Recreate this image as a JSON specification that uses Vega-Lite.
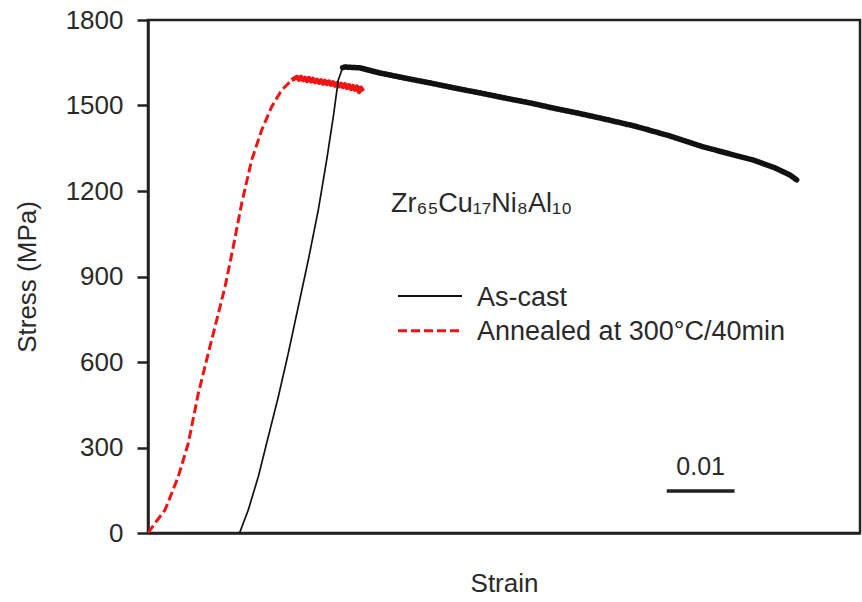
{
  "$schema": "https://vega.github.io/schema/vega-lite/v6.json",
  "width": 712,
  "height": 513,
  "autosize": "none",
  "padding": {"left": 148, "top": 20, "right": 2, "bottom": 69},
  "background": "white",
  "config": {
    "font": "Liberation Sans",
    "view": {"stroke": "#222", "strokeWidth": 2.5},
    "axis": {"grid": false, "domainColor": "#222", "domainWidth": 2.5, "tickColor": "#222", "tickWidth": 2.5,
             "labelFont": "Liberation Sans", "titleFont": "Liberation Sans", "labelColor": "#2a2a2a", "titleColor": "#2a2a2a",
             "titleFontWeight": "normal"},
    "text": {"font": "Liberation Sans", "color": "#2a2a2a"}
  },
  "datasets": {
    "curves": [
      {"series": "Annealed at 300°C/40min", "stage": "elastic", "strain": 0.0, "stress": 0},
      {"series": "Annealed at 300°C/40min", "stage": "elastic", "strain": 0.00103, "stress": 34},
      {"series": "Annealed at 300°C/40min", "stage": "elastic", "strain": 0.00251, "stress": 81},
      {"series": "Annealed at 300°C/40min", "stage": "elastic", "strain": 0.00447, "stress": 198},
      {"series": "Annealed at 300°C/40min", "stage": "elastic", "strain": 0.00594, "stress": 315},
      {"series": "Annealed at 300°C/40min", "stage": "elastic", "strain": 0.00742, "stress": 490},
      {"series": "Annealed at 300°C/40min", "stage": "elastic", "strain": 0.00889, "stress": 631},
      {"series": "Annealed at 300°C/40min", "stage": "elastic", "strain": 0.01013, "stress": 747},
      {"series": "Annealed at 300°C/40min", "stage": "elastic", "strain": 0.01136, "stress": 864},
      {"series": "Annealed at 300°C/40min", "stage": "elastic", "strain": 0.01258, "stress": 1005},
      {"series": "Annealed at 300°C/40min", "stage": "elastic", "strain": 0.01382, "stress": 1157},
      {"series": "Annealed at 300°C/40min", "stage": "elastic", "strain": 0.01529, "stress": 1309},
      {"series": "Annealed at 300°C/40min", "stage": "elastic", "strain": 0.01677, "stress": 1414},
      {"series": "Annealed at 300°C/40min", "stage": "elastic", "strain": 0.01824, "stress": 1496},
      {"series": "Annealed at 300°C/40min", "stage": "elastic", "strain": 0.01972, "stress": 1554},
      {"series": "Annealed at 300°C/40min", "stage": "elastic", "strain": 0.02119, "stress": 1589},
      {"series": "Annealed at 300°C/40min", "stage": "flow", "strain": 0.02119, "stress": 1589},
      {"series": "Annealed at 300°C/40min", "stage": "flow", "strain": 0.02197, "stress": 1600},
      {"series": "Annealed at 300°C/40min", "stage": "flow", "strain": 0.02227, "stress": 1591},
      {"series": "Annealed at 300°C/40min", "stage": "flow", "strain": 0.02256, "stress": 1600},
      {"series": "Annealed at 300°C/40min", "stage": "flow", "strain": 0.02286, "stress": 1589},
      {"series": "Annealed at 300°C/40min", "stage": "flow", "strain": 0.02315, "stress": 1597},
      {"series": "Annealed at 300°C/40min", "stage": "flow", "strain": 0.02345, "stress": 1586},
      {"series": "Annealed at 300°C/40min", "stage": "flow", "strain": 0.02374, "stress": 1596},
      {"series": "Annealed at 300°C/40min", "stage": "flow", "strain": 0.02404, "stress": 1585},
      {"series": "Annealed at 300°C/40min", "stage": "flow", "strain": 0.02433, "stress": 1593},
      {"series": "Annealed at 300°C/40min", "stage": "flow", "strain": 0.02463, "stress": 1582},
      {"series": "Annealed at 300°C/40min", "stage": "flow", "strain": 0.02492, "stress": 1590},
      {"series": "Annealed at 300°C/40min", "stage": "flow", "strain": 0.02522, "stress": 1580},
      {"series": "Annealed at 300°C/40min", "stage": "flow", "strain": 0.02551, "stress": 1588},
      {"series": "Annealed at 300°C/40min", "stage": "flow", "strain": 0.02581, "stress": 1577},
      {"series": "Annealed at 300°C/40min", "stage": "flow", "strain": 0.0261, "stress": 1586},
      {"series": "Annealed at 300°C/40min", "stage": "flow", "strain": 0.0264, "stress": 1576},
      {"series": "Annealed at 300°C/40min", "stage": "flow", "strain": 0.02669, "stress": 1584},
      {"series": "Annealed at 300°C/40min", "stage": "flow", "strain": 0.02699, "stress": 1573},
      {"series": "Annealed at 300°C/40min", "stage": "flow", "strain": 0.02728, "stress": 1581},
      {"series": "Annealed at 300°C/40min", "stage": "flow", "strain": 0.02758, "stress": 1570},
      {"series": "Annealed at 300°C/40min", "stage": "flow", "strain": 0.02787, "stress": 1578},
      {"series": "Annealed at 300°C/40min", "stage": "flow", "strain": 0.02817, "stress": 1568},
      {"series": "Annealed at 300°C/40min", "stage": "flow", "strain": 0.02846, "stress": 1576},
      {"series": "Annealed at 300°C/40min", "stage": "flow", "strain": 0.02876, "stress": 1565},
      {"series": "Annealed at 300°C/40min", "stage": "flow", "strain": 0.02905, "stress": 1574},
      {"series": "Annealed at 300°C/40min", "stage": "flow", "strain": 0.02935, "stress": 1562},
      {"series": "Annealed at 300°C/40min", "stage": "flow", "strain": 0.02964, "stress": 1571},
      {"series": "Annealed at 300°C/40min", "stage": "flow", "strain": 0.02994, "stress": 1558},
      {"series": "Annealed at 300°C/40min", "stage": "flow", "strain": 0.03023, "stress": 1568},
      {"series": "Annealed at 300°C/40min", "stage": "flow", "strain": 0.03053, "stress": 1556},
      {"series": "Annealed at 300°C/40min", "stage": "flow", "strain": 0.03082, "stress": 1566},
      {"series": "Annealed at 300°C/40min", "stage": "flow", "strain": 0.03112, "stress": 1548},
      {"series": "Annealed at 300°C/40min", "stage": "flow", "strain": 0.03141, "stress": 1562},
      {"series": "Annealed at 300°C/40min", "stage": "flow", "strain": 0.03171, "stress": 1550},
      {"series": "As-cast", "stage": "elastic", "strain": 0.0135, "stress": 0},
      {"series": "As-cast", "stage": "elastic", "strain": 0.01479, "stress": 81},
      {"series": "As-cast", "stage": "elastic", "strain": 0.01627, "stress": 198},
      {"series": "As-cast", "stage": "elastic", "strain": 0.01774, "stress": 338},
      {"series": "As-cast", "stage": "elastic", "strain": 0.01922, "stress": 478},
      {"series": "As-cast", "stage": "elastic", "strain": 0.02069, "stress": 631},
      {"series": "As-cast", "stage": "elastic", "strain": 0.02216, "stress": 794},
      {"series": "As-cast", "stage": "elastic", "strain": 0.02364, "stress": 958},
      {"series": "As-cast", "stage": "elastic", "strain": 0.02511, "stress": 1133},
      {"series": "As-cast", "stage": "elastic", "strain": 0.02635, "stress": 1309},
      {"series": "As-cast", "stage": "elastic", "strain": 0.02733, "stress": 1461},
      {"series": "As-cast", "stage": "elastic", "strain": 0.02806, "stress": 1589},
      {"series": "As-cast", "stage": "elastic", "strain": 0.0287, "stress": 1633},
      {"series": "As-cast", "stage": "flow", "strain": 0.0287, "stress": 1633},
      {"series": "As-cast", "stage": "flow", "strain": 0.02905, "stress": 1635},
      {"series": "As-cast", "stage": "flow", "strain": 0.03126, "stress": 1632},
      {"series": "As-cast", "stage": "flow", "strain": 0.03421, "stress": 1614},
      {"series": "As-cast", "stage": "flow", "strain": 0.0379, "stress": 1596},
      {"series": "As-cast", "stage": "flow", "strain": 0.04159, "stress": 1579},
      {"series": "As-cast", "stage": "flow", "strain": 0.04527, "stress": 1561},
      {"series": "As-cast", "stage": "flow", "strain": 0.04896, "stress": 1544},
      {"series": "As-cast", "stage": "flow", "strain": 0.05265, "stress": 1526},
      {"series": "As-cast", "stage": "flow", "strain": 0.05634, "stress": 1509},
      {"series": "As-cast", "stage": "flow", "strain": 0.05973, "stress": 1491},
      {"series": "As-cast", "stage": "flow", "strain": 0.06322, "stress": 1474},
      {"series": "As-cast", "stage": "flow", "strain": 0.06666, "stress": 1456},
      {"series": "As-cast", "stage": "flow", "strain": 0.07207, "stress": 1426},
      {"series": "As-cast", "stage": "flow", "strain": 0.07698, "stress": 1393},
      {"series": "As-cast", "stage": "flow", "strain": 0.08185, "stress": 1355},
      {"series": "As-cast", "stage": "flow", "strain": 0.08583, "stress": 1330},
      {"series": "As-cast", "stage": "flow", "strain": 0.08922, "stress": 1309},
      {"series": "As-cast", "stage": "flow", "strain": 0.09247, "stress": 1281},
      {"series": "As-cast", "stage": "flow", "strain": 0.09468, "stress": 1256},
      {"series": "As-cast", "stage": "flow", "strain": 0.09566, "stress": 1239}
    ]
  },
  "layer": [
    {
      "data": {"name": "curves"},
      "transform": [{"filter": "datum.series === 'Annealed at 300°C/40min' && datum.stage === 'elastic'"}],
      "mark": {"type": "line", "strokeWidth": 3, "clip": true},
      "encoding": {
        "x": {"field": "strain", "type": "quantitative", "scale": {"domain": [0, 0.105], "nice": false},
              "axis": {"title": "Strain", "labels": false, "ticks": false, "titleFontSize": 26, "titlePadding": 37}},
        "y": {"field": "stress", "type": "quantitative", "scale": {"domain": [0, 1800], "nice": false},
              "axis": {"title": "Stress (MPa)", "values": [0, 300, 600, 900, 1200, 1500, 1800], "format": "d", "tickSize": 11,
                       "labelFontSize": 26, "labelPadding": 14, "titleFontSize": 26, "titlePadding": 25}},
        "color": {"field": "series", "type": "nominal", "legend": null,
                  "scale": {"domain": ["As-cast", "Annealed at 300°C/40min"], "range": ["#111111", "#f01414"]}},
        "strokeDash": {"field": "series", "type": "nominal", "legend": null,
                       "scale": {"domain": ["As-cast", "Annealed at 300°C/40min"], "range": [[1, 0], [9, 4]]}}
      }
    },
    {
      "data": {"name": "curves"},
      "transform": [{"filter": "datum.series === 'Annealed at 300°C/40min' && datum.stage === 'flow'"}],
      "mark": {"type": "line", "strokeWidth": 4.5, "strokeJoin": "round"},
      "encoding": {
        "x": {"field": "strain", "type": "quantitative"},
        "y": {"field": "stress", "type": "quantitative"},
        "color": {"field": "series", "type": "nominal"}
      }
    },
    {
      "data": {"name": "curves"},
      "transform": [{"filter": "datum.series === 'As-cast' && datum.stage === 'elastic'"}],
      "mark": {"type": "line", "strokeWidth": 1.7},
      "encoding": {
        "x": {"field": "strain", "type": "quantitative"},
        "y": {"field": "stress", "type": "quantitative"},
        "color": {"field": "series", "type": "nominal"},
        "strokeDash": {"field": "series", "type": "nominal"}
      }
    },
    {
      "data": {"name": "curves"},
      "transform": [{"filter": "datum.series === 'As-cast' && datum.stage === 'flow'"}],
      "mark": {"type": "line", "strokeWidth": 5.5, "strokeCap": "round"},
      "encoding": {
        "x": {"field": "strain", "type": "quantitative"},
        "y": {"field": "stress", "type": "quantitative"},
        "color": {"field": "series", "type": "nominal"},
        "strokeDash": {"field": "series", "type": "nominal"}
      }
    },
    {
      "data": {"values": [{}]},
      "mark": {"type": "rule", "strokeWidth": 2},
      "encoding": {
        "x": {"datum": 0.03687, "type": "quantitative"},
        "x2": {"datum": 0.04631},
        "y": {"datum": 831.6, "type": "quantitative"},
        "color": {"datum": "As-cast", "type": "nominal"},
        "strokeDash": {"datum": "As-cast", "type": "nominal"}
      }
    },
    {
      "data": {"values": [{}]},
      "mark": {"type": "rule", "strokeWidth": 3},
      "encoding": {
        "x": {"datum": 0.03687, "type": "quantitative"},
        "x2": {"datum": 0.04631},
        "y": {"datum": 709.8, "type": "quantitative"},
        "color": {"datum": "Annealed at 300°C/40min", "type": "nominal"},
        "strokeDash": {"datum": "Annealed at 300°C/40min", "type": "nominal"}
      }
    },
    {
      "data": {"values": [{}]},
      "mark": {"type": "text", "text": "As-cast", "fontSize": 27, "align": "left", "baseline": "alphabetic"},
      "encoding": {
        "x": {"datum": 0.04852, "type": "quantitative"},
        "y": {"datum": 797.5, "type": "quantitative"}
      }
    },
    {
      "data": {"values": [{}]},
      "mark": {"type": "text", "text": "Annealed at 300°C/40min", "fontSize": 27, "align": "left", "baseline": "alphabetic"},
      "encoding": {
        "x": {"datum": 0.04852, "type": "quantitative"},
        "y": {"datum": 678, "type": "quantitative"}
      }
    },
    {
      "data": {"values": [{}]},
      "mark": {"type": "text", "text": "Zr₆₅Cu₁₇Ni₈Al₁₀", "fontSize": 27, "align": "left", "baseline": "alphabetic"},
      "encoding": {
        "x": {"datum": 0.03584, "type": "quantitative"},
        "y": {"datum": 1127, "type": "quantitative"}
      }
    },
    {
      "data": {"values": [{}]},
      "mark": {"type": "rule", "strokeWidth": 3.5, "color": "#222"},
      "encoding": {
        "x": {"datum": 0.0765, "type": "quantitative"},
        "x2": {"datum": 0.0865},
        "y": {"datum": 147, "type": "quantitative"}
      }
    },
    {
      "data": {"values": [{}]},
      "mark": {"type": "text", "text": "0.01", "fontSize": 25, "align": "center", "baseline": "alphabetic"},
      "encoding": {
        "x": {"datum": 0.0815, "type": "quantitative"},
        "y": {"datum": 203, "type": "quantitative"}
      }
    }
  ]
}
